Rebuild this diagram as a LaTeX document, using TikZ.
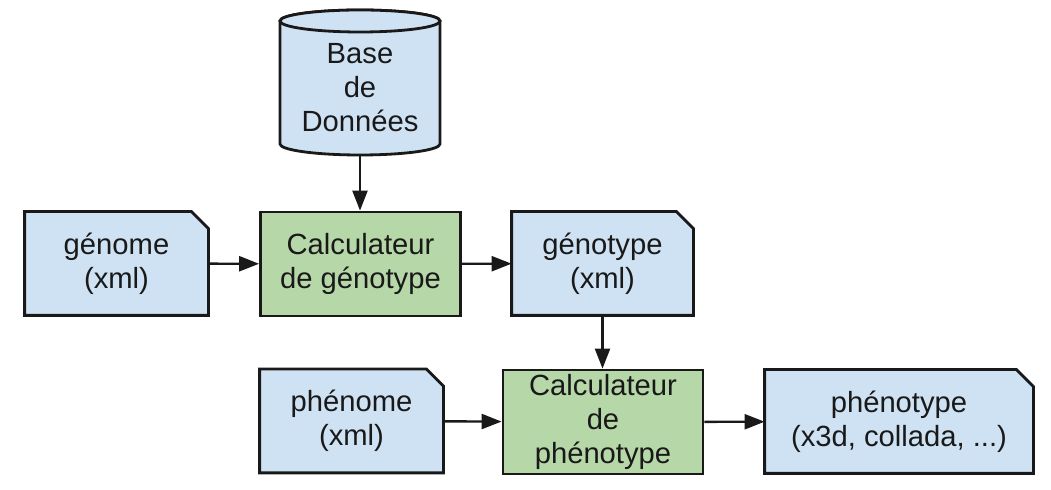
\documentclass[tikz,border=0pt]{standalone}
\usepackage{fontspec}
\setmainfont{Liberation Sans}
\usetikzlibrary{arrows.meta,backgrounds}
\definecolor{docblue}{HTML}{CFE2F3}
\definecolor{calcgreen}{HTML}{B6D7A8}

\begin{document}
\begin{tikzpicture}[x=0.5pt,y=-0.5pt,
    every node/.style={font=\fontsize{14.6}{17}\selectfont, align=center, inner sep=0pt, text=black!90},
    docline/.style={draw=black!90, line width=1.4pt, fill=docblue},
    doc/.style={minimum height=51.5pt},
    calc/.style={draw=black!90, line width=1.4pt, fill=calcgreen, minimum width=100pt, minimum height=52pt},
    link/.style={line width=1.2pt, draw=black!90, -{Triangle[length=10pt,width=7.5pt]}}]
    \useasboundingbox (0,0) rectangle (1051,490);

    % Nodes
    \node[minimum width=80pt, minimum height=67pt] (db) at (360,88) {Base\\de\\Données};
    \node[doc, minimum width=91.5pt] (genome) at (116.5,263.5) {génome\\(xml)};
    \node[calc] (calcgeno) at (360.5,264) {Calculateur\\de génotype};
    \node[doc, minimum width=90.5pt] (genotype) at (602.5,263.5) {génotype\\(xml)};
    \node[doc, minimum width=91.5pt] (phenome) at (351.5,421) {phénome\\(xml)};
    \node[calc] (calcpheno) at (603,422) {Calculateur\\de\\phénotype};
    \node[doc, minimum width=134pt] (phenotype) at (899,421.5) {phénotype\\(x3d, collada, ...)};

    % Shapes behind the texts
    \begin{scope}[on background layer]
        \filldraw[docline] (280,21) -- (280,144) arc[start angle=180, end angle=0, x radius=80, y radius=11]
            -- (440,21) arc[start angle=360, end angle=180, x radius=80, y radius=11] -- cycle;
        \draw[docline] (360,21) ellipse[x radius=80, y radius=11];
        \foreach \n in {genome,genotype,phenome,phenotype}
            \filldraw[docline] (\n.north west) -- ([xshift=-8.5pt]\n.north east) -- ([yshift=-8.5pt]\n.north east)
                -- (\n.south east) -- (\n.south west) -- cycle;
    \end{scope}

    % Arrows
    \draw[link] (db.south) -- (db.south |- calcgeno.north);
    \draw[link] (genome) -- (calcgeno);
    \draw[link] (calcgeno) -- (genotype);
    \draw[link] (genotype.south) -- (genotype.south |- calcpheno.north);
    \draw[link] (phenome) -- (calcpheno);
    \draw[link] (calcpheno) -- (phenotype);
\end{tikzpicture}
\end{document}
